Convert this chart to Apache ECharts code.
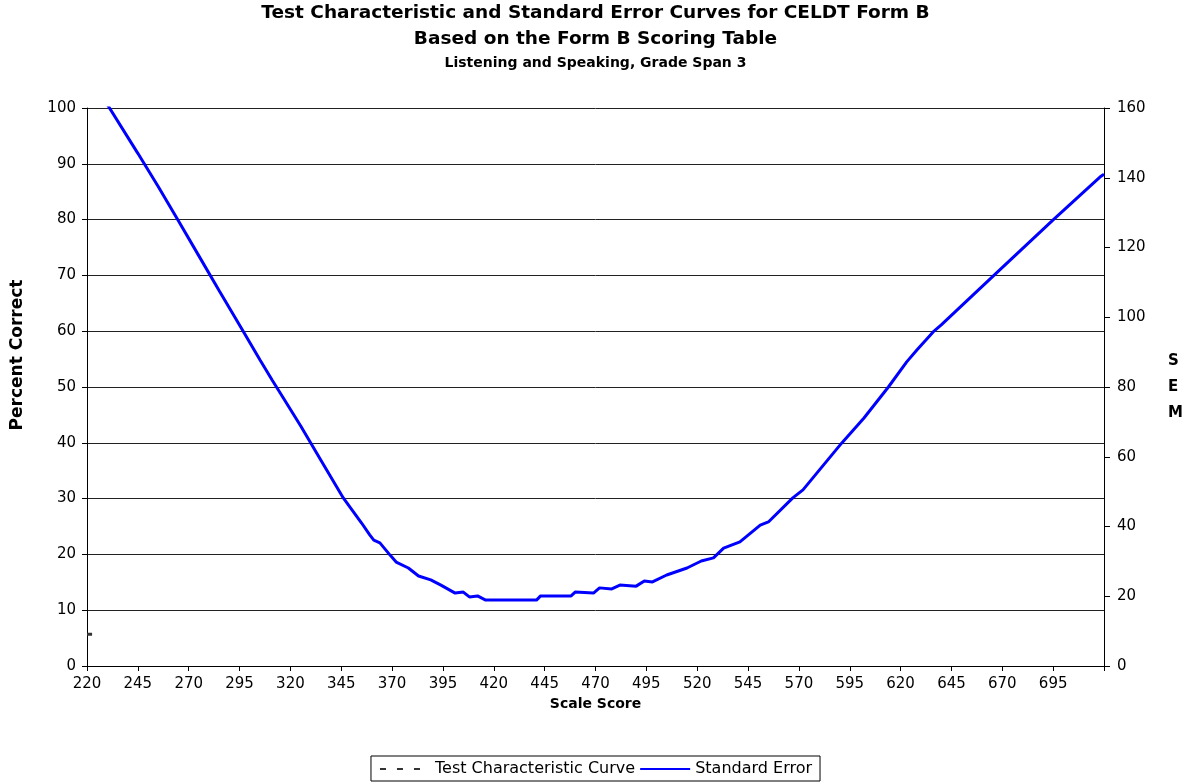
<!DOCTYPE html>
<html>
<head>
<meta charset="utf-8">
<script src="https://cdn.jsdelivr.net/npm/echarts@6/dist/echarts.min.js"></script>
<style>
    html, body { margin: 0; padding: 0; background: #fff; }
    #chart { width: 1191px; height: 782px; }
</style>
</head>
<body>
<div id="chart"></div>
<script>
// Scale score ticks (x axis), every 25 from 220
var scaleTicks = [220, 245, 270, 295, 320, 345, 370, 395, 420, 445, 470, 495, 520, 545, 570, 595, 620, 645, 670, 695, 720];

// Standard error curve (right axis, SEM)
var semScores = [220, 230, 245, 255, 265, 275, 285, 297, 305, 311, 315, 325, 335, 346, 350, 355, 359, 361, 364, 369,
    372, 378, 383, 389, 394, 401, 405, 408, 412, 416, 441, 443, 453, 458, 460, 469, 472, 478, 482, 490,
    494, 498, 505, 515, 522, 528, 533, 541, 551, 555, 567, 572, 591, 602, 614, 623, 628, 636, 640, 666, 695, 718, 720];
var semValues = [171, 161, 147, 137.5, 127.6, 117.6, 107.6, 95.8, 87.8, 82, 78.3, 68.9, 59, 48.2, 45, 41, 37.6, 36.1, 35.3, 31.8,
    29.8, 28.1, 25.8, 24.7, 23.2, 20.9, 21.2, 19.8, 20.1, 18.9, 18.9, 20.1, 20.1, 20.1, 21.2, 20.9, 22.4, 22.1, 23.2, 22.9,
    24.4, 24.1, 26.1, 28.1, 30.1, 31, 33.8, 35.6, 40.4, 41.3, 48.2, 50.5, 63.9, 71.1, 80, 87.2, 90.6, 95.8, 97.8, 112.1, 127.9, 140.2, 141];

// Test characteristic curve (left axis, percent correct) - only a stub is visible
var tccScores = [220, 222.5];
var tccValues = [5.7, 5.7];

var font = 'DejaVu Sans';

function pairs(xs, ys) {
    var res = [];
    for (var i = 0; i < xs.length; i++) {
        res.push([xs[i], ys[i]]);
    }
    return res;
}

var chart = echarts.init(document.getElementById('chart'));

var option = {
    backgroundColor: '#ffffff',
    animation: false,
    title: [
        {
            text: 'Test Characteristic and Standard Error Curves for CELDT Form B',
            left: 'center', top: -1,
            textStyle: { fontFamily: font, fontSize: 18.5, fontWeight: 'bold', color: '#000' }
        },
        {
            text: 'Based on the Form B Scoring Table',
            left: 'center', top: 25,
            textStyle: { fontFamily: font, fontSize: 18.5, fontWeight: 'bold', color: '#000' }
        },
        {
            text: 'Listening and Speaking, Grade Span 3',
            left: 'center', top: 51,
            textStyle: { fontFamily: font, fontSize: 14, fontWeight: 'bold', color: '#000' }
        }
    ],
    graphic: [
        {
            type: 'text',
            x: 9, y: 355,
            rotation: Math.PI / 2,
            style: {
                text: 'Percent Correct',
                fontFamily: font, fontSize: 17, fontWeight: 'bold', fill: '#000',
                align: 'center', verticalAlign: 'top'
            }
        }
    ],
    legend: {
        bottom: 1,
        left: 'center',
        borderColor: '#000',
        borderWidth: 1,
        padding: [5, 8, 4, 8],
        itemGap: 4,
        itemWidth: 50,
        itemHeight: 10,
        itemStyle: { opacity: 0 },
        textStyle: { fontFamily: font, fontSize: 16, color: '#000' },
        data: ['Test Characteristic Curve', 'Standard Error']
    },
    grid: { left: 87, right: 87, top: 108, bottom: 116, containLabel: false },
    xAxis: {
        type: 'value',
        min: 220,
        max: 720,
        interval: 25,
        name: 'Scale Score',
        nameLocation: 'middle',
        nameGap: 29,
        nameTextStyle: { fontFamily: font, fontSize: 14, fontWeight: 'bold', color: '#000' },
        axisLine: { lineStyle: { color: '#000', width: 1 } },
        axisTick: { show: true, length: 5, lineStyle: { color: '#000' } },
        axisLabel: {
            fontFamily: font, fontSize: 15, color: '#000', margin: 11,
            formatter: function (v) { return v === 720 ? '' : String(v); }
        },
        splitLine: { show: false }
    },
    yAxis: [
        {
            type: 'value',
            min: 0, max: 100, interval: 10,
            position: 'left',
            axisLine: { show: true, lineStyle: { color: '#000', width: 1 } },
            axisTick: { show: true, length: 5, lineStyle: { color: '#000' } },
            axisLabel: { fontFamily: font, fontSize: 15, color: '#000', margin: 11 },
            splitLine: { show: true, lineStyle: { color: '#222', width: 1 } }
        },
        {
            type: 'value',
            min: 0, max: 160, interval: 20,
            position: 'right',
            name: 'S\nE\nM',
            nameLocation: 'middle',
            nameGap: 64,
            nameRotate: 0,
            nameTextStyle: { fontFamily: font, fontSize: 15, fontWeight: 'bold', color: '#000', lineHeight: 26, padding: [0, 0, 14, 0] },
            axisLine: { show: true, lineStyle: { color: '#000', width: 1 } },
            axisTick: { show: true, length: 6, lineStyle: { color: '#000' } },
            axisLabel: { fontFamily: font, fontSize: 15, color: '#000', margin: 13 },
            splitLine: { show: false }
        }
    ],
    series: [
        {
            name: 'Test Characteristic Curve',
            type: 'line',
            yAxisIndex: 0,
            symbol: 'none',
            clip: true,
            lineStyle: { color: '#333', width: 3, type: [6, 11] },
            itemStyle: { color: '#333' },
            data: pairs(tccScores, tccValues)
        },
        {
            name: 'Standard Error',
            type: 'line',
            yAxisIndex: 1,
            symbol: 'none',
            clip: true,
            lineStyle: { color: '#0000ff', width: 3 },
            itemStyle: { color: '#0000ff' },
            data: pairs(semScores, semValues)
        }
    ]
};

chart.setOption(option);
</script>
</body>
</html>
